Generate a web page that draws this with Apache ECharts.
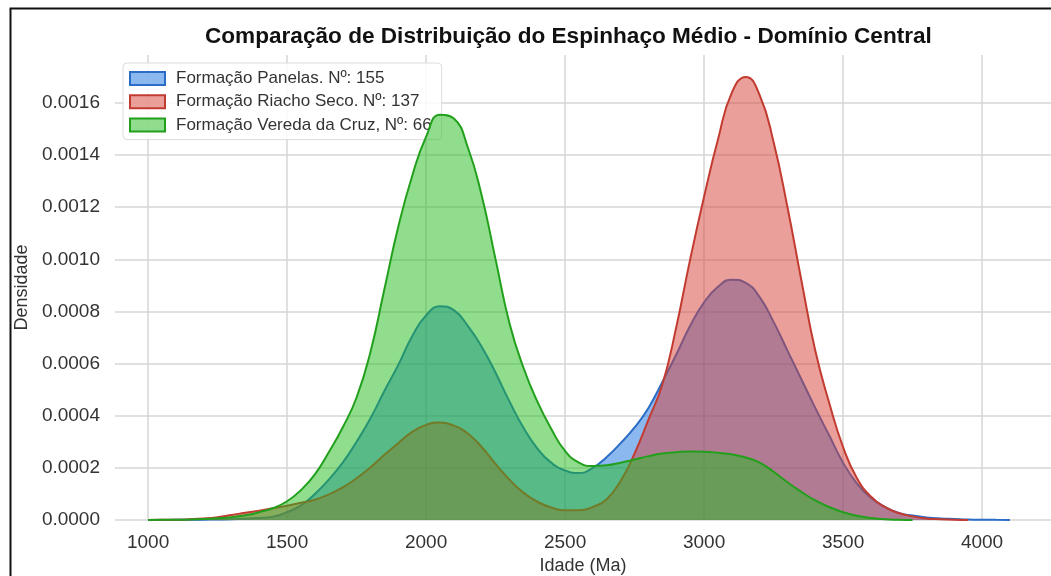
<!DOCTYPE html>
<html>
<head>
<meta charset="utf-8">
<title>Espinhaço Médio - Domínio Central</title>
<script src="https://cdn.jsdelivr.net/npm/echarts@6/dist/echarts.min.js"></script>
<style>
  html, body { margin: 0; padding: 0; background: #fff; }
  #chart { width: 1051px; height: 576px; }
</style>
</head>
<body>
<div id="chart"></div>
<script>
// idades (Ma) da grade da KDE
const ages = [
  1000, 1050, 1100, 1150, 1200, 1250, 1300, 1350, 1400, 1450,
  1500, 1550, 1600, 1650, 1700, 1750, 1800, 1850, 1900, 1950,
  2000, 2050, 2100, 2150, 2200, 2250, 2300, 2350, 2400, 2450,
  2500, 2550, 2600, 2650, 2700, 2750, 2800, 2850, 2900, 2950,
  3000, 3050, 3100, 3150, 3200, 3250, 3300, 3350, 3400, 3450,
  3500, 3550, 3600, 3650, 3700, 3750, 3800, 3850, 3900, 3950,
  4000, 4050, 4100
];

// Formação Panelas
const panelas = [
  0, 3e-7, 5e-7, 8e-7, 1.2e-6, 2e-6, 3e-6, 5e-6, 8e-6, 1.3e-5,
  3.0e-5, 5.6e-5, 1.0e-4, 1.55e-4, 2.2e-4, 3.0e-4, 3.9e-4, 4.95e-4, 5.95e-4, 7.05e-4,
  7.85e-4, 8.2e-4, 8.05e-4, 7.45e-4, 6.65e-4, 5.65e-4, 4.55e-4, 3.55e-4, 2.75e-4, 2.2e-4,
  1.9e-4, 1.8e-4, 2.0e-4, 2.42e-4, 2.95e-4, 3.55e-4, 4.3e-4, 5.3e-4, 6.35e-4, 7.45e-4,
  8.35e-4, 8.95e-4, 9.22e-4, 9.1e-4, 8.55e-4, 7.6e-4, 6.5e-4, 5.4e-4, 4.3e-4, 3.25e-4,
  2.2e-4, 1.4e-4, 8.5e-5, 5e-5, 2.7e-5, 1.7e-5, 1e-5, 6e-6, 4e-6, 2e-6,
  1e-6, 6e-7, 4e-7
];

// Formação Riacho Seco
const riachoSeco = [
  0, 5e-7, 1e-6, 3e-6, 6e-6, 1.1e-5, 1.9e-5, 2.8e-5, 3.6e-5, 4.5e-5,
  5.5e-5, 6.6e-5, 7.8e-5, 9.8e-5, 1.25e-4, 1.6e-4, 2.02e-4, 2.5e-4, 2.95e-4, 3.38e-4,
  3.65e-4, 3.74e-4, 3.62e-4, 3.32e-4, 2.8e-4, 2.15e-4, 1.55e-4, 1.05e-4, 7e-5, 4.8e-5,
  3.7e-5, 3.7e-5, 5e-5, 8e-5, 1.5e-4, 2.55e-4, 3.85e-4, 5.2e-4, 7.4e-4, 1.0e-3,
  1.24e-3, 1.46e-3, 1.64e-3, 1.70e-3, 1.63e-3, 1.45e-3, 1.2e-3, 9.2e-4, 6.5e-4, 4.5e-4,
  2.8e-4, 1.6e-4, 9e-5, 5e-5, 2.7e-5, 1.4e-5, 6e-6, 3e-6, 1e-6, 0,
  null, null, null
];

// Formação Vereda da Cruz
const veredaCruz = [
  0, 5e-7, 1e-6, 2e-6, 4e-6, 7e-6, 1.1e-5, 1.8e-5, 3e-5, 4.6e-5,
  7.2e-5, 1.15e-4, 1.75e-4, 2.6e-4, 3.55e-4, 4.7e-4, 6.45e-4, 8.85e-4, 1.125e-3, 1.32e-3,
  1.47e-3, 1.555e-3, 1.54e-3, 1.43e-3, 1.245e-3, 1.0e-3, 7.55e-4, 5.85e-4, 4.55e-4, 3.5e-4,
  2.65e-4, 2.2e-4, 2.07e-4, 2.1e-4, 2.2e-4, 2.32e-4, 2.45e-4, 2.55e-4, 2.6e-4, 2.63e-4,
  2.62e-4, 2.58e-4, 2.52e-4, 2.4e-4, 2.2e-4, 1.85e-4, 1.45e-4, 1.08e-4, 7.5e-5, 5e-5,
  3e-5, 1.6e-5, 8e-6, 3e-6, 1e-6, 0, null, null, null, null,
  null, null, null
];

const xTicks = [1000, 1500, 2000, 2500, 3000, 3500, 4000];
const yTicks = [0, 0.0002, 0.0004, 0.0006, 0.0008, 0.0010, 0.0012, 0.0014, 0.0016];

const seriesNames = [
  "Formação Panelas. Nº: 155",
  "Formação Riacho Seco. Nº: 137",
  "Formação Vereda da Cruz, Nº: 66",
];

const FONT = "'Liberation Sans', Arial, sans-serif";

const styles = [
  { line: "#2a6cc6", fill: "#1a72e2" },
  { line: "#c23b30", fill: "#d63f35" },
  { line: "#22a01c", fill: "#22bb1e" },
];

const toPairs = (vals) => ages.map((a, i) => [a, vals[i]]);

const myChart = echarts.init(document.getElementById("chart"));

const option = {
  animation: false,
  backgroundColor: "#fff",
  title: {
    text: "Comparação de Distribuição do Espinhaço Médio - Domínio Central",
    left: 200,
    top: 20,
    textStyle: {
      fontFamily: FONT,
      fontSize: 22.6,
      fontWeight: "bold",
      color: "#111",
    },
  },
  legend: {
    orient: "vertical",
    left: 123,
    top: 63,
    padding: [6, 10, 5, 6],
    itemWidth: 35,
    itemHeight: 13,
    itemGap: 4.3,
    backgroundColor: "rgba(255,255,255,0.85)",
    borderColor: "#dcdcdc",
    borderWidth: 1,
    borderRadius: 4,
    textStyle: {
      fontFamily: FONT,
      fontSize: 17,
      color: "#333",
      lineHeight: 19,
      padding: [0, 0, 0, 6],
    },
    data: seriesNames.map((name, i) => ({
      name: name,
      icon: "rect",
      itemStyle: {
        color: echarts.color.modifyAlpha(styles[i].fill, 0.5),
        borderColor: styles[i].line,
        borderWidth: 2,
      },
    })),
  },
  grid: {
    left: 115,
    right: 0,
    top: 55,
    bottom: 56,
    outerBoundsMode: "none",
  },
  xAxis: {
    type: "value",
    min: 881,
    max: 4248,
    name: "Idade (Ma)",
    nameLocation: "middle",
    nameGap: 37,
    nameTextStyle: { fontFamily: FONT, fontSize: 18, color: "#333" },
    axisLine: { show: false },
    axisTick: { show: false, customValues: xTicks },
    axisLabel: {
      customValues: xTicks,
      margin: 13,
      fontFamily: FONT,
      fontSize: 19,
      color: "#333",
      formatter: (v) => String(v),
    },
    splitLine: { show: true, lineStyle: { color: "#d6d6d6", width: 1.5 } },
  },
  yAxis: {
    type: "value",
    min: 0,
    max: 0.001784,
    name: "Densidade",
    nameLocation: "middle",
    nameGap: 80,
    nameTextStyle: { fontFamily: FONT, fontSize: 18, color: "#333" },
    axisLine: { show: false },
    axisTick: { show: false, customValues: yTicks },
    axisLabel: {
      customValues: yTicks,
      margin: 15,
      fontFamily: FONT,
      fontSize: 19,
      color: "#333",
      formatter: (v) => v.toFixed(4),
    },
    splitLine: { show: true, lineStyle: { color: "#d6d6d6", width: 1.5 } },
  },
  // cada série (área + linha) em seu próprio z, para a área seguinte cobrir a linha anterior
  series: [panelas, riachoSeco, veredaCruz].map((vals, i) => ({
    name: seriesNames[i],
    type: "line",
    z: 2 + i,
    data: toPairs(vals),
    smooth: 0.5,
    symbol: "none",
    connectNulls: false,
    lineStyle: { color: styles[i].line, width: 2 },
    itemStyle: { color: styles[i].line },
    areaStyle: { color: styles[i].fill, opacity: 0.5, origin: "start" },
  })),
  graphic: [
    {
      type: "rect",
      left: 8,
      top: 6,
      shape: { width: 1200, height: 700 },
      style: { fill: null, stroke: "#111", lineWidth: 2 },
      silent: true,
      z: 100,
    },
  ],
};

myChart.setOption(option);
window.addEventListener("resize", myChart.resize);
</script>
</body>
</html>
